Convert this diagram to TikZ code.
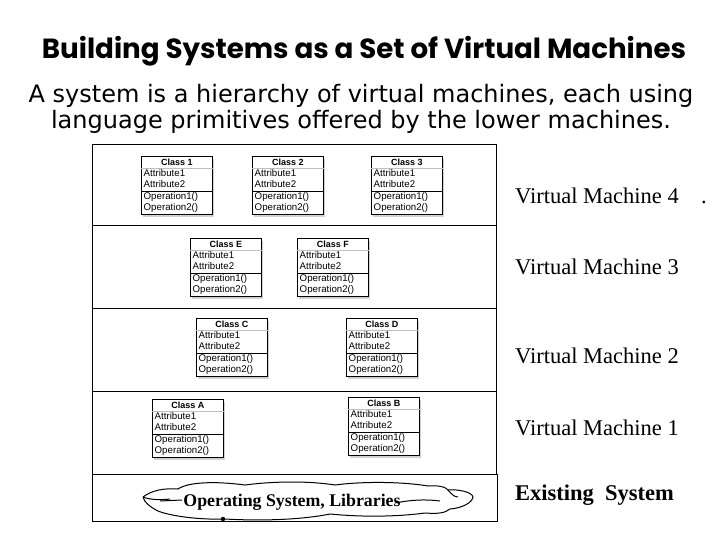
\documentclass[tikz,border=0pt]{standalone}
\usepackage{fontspec}
\setmainfont{Liberation Serif}
\newfontfamily\titlefont{Poppins}
\newfontfamily\subfont{DejaVu Sans}
\newfontfamily\umlfont{Liberation Sans}
\usetikzlibrary{shadows}
\tikzset{
  x=1pt, y=-1pt,
  classbox/.style={draw=black, line width=0.8pt, fill=white, minimum width=71pt, minimum height=58pt,
     inner sep=0pt, anchor=north west, drop shadow={opacity=0.35, shadow xshift=2pt, shadow yshift=-3pt}},
  ctitle/.style={font=\umlfont\bfseries\fontsize{9}{10}\selectfont, inner sep=0pt},
  crow/.style={font=\umlfont\fontsize{9.7}{10}\selectfont, inner sep=0pt, anchor=west},
  layer/.style={draw=black, line width=0.8pt},
  vmlabel/.style={font=\fontsize{22.5}{24}\selectfont, anchor=west, inner sep=0pt},
}
\newcommand\umlclass[4]{%
  \node[classbox] (#1) at (#2,#3) {};
  \node[ctitle] (#1t) at ([yshift=-6.5pt]#1.north) {#4};
  \draw[gray!50, line width=0.5pt] ([yshift=-12pt]#1.north west) -- ([yshift=-12pt]#1.north east);
  \node[crow] (#1a1) at ([xshift=2.5pt,yshift=-17.5pt]#1.north west) {Attribute1};
  \node[crow] (#1a2) at ([xshift=2.5pt,yshift=-28.5pt]#1.north west) {Attribute2};
  \draw[black, line width=0.7pt] ([yshift=-35pt]#1.north west) -- ([yshift=-35pt]#1.north east);
  \node[crow] (#1o1) at ([xshift=2.5pt,yshift=-41pt]#1.north west) {Operation1()};
  \node[crow] (#1o2) at ([xshift=2.5pt,yshift=-52pt]#1.north west) {Operation2()};
}
\begin{document}
\begin{tikzpicture}
\useasboundingbox (0,0) rectangle (720,540);
\fill[white] (0,0) rectangle (720,540);

% titles
\node[font=\titlefont\bfseries\fontsize{27.7}{30}\selectfont, inner sep=0pt] (title) at (364,51) {Building Systems as a Set of Virtual Machines};
\node[font=\subfont\fontsize{24}{26}\selectfont, inner sep=0pt] (sub1) at (361,96) {A system is a hierarchy of virtual machines, each using};
\node[font=\subfont\fontsize{24}{26}\selectfont, inner sep=0pt] (sub2) at (361,122) {language primitives offered by the lower machines.};

% layers
\draw[layer] (92,144) rectangle (496,474);
\draw[layer] (92,225) -- (496,225);
\draw[layer] (92,308) -- (496,308);
\draw[layer] (92,391) -- (496,391);
\draw[layer] (92,474) rectangle (497,521);

% classes
\umlclass{c1}{141}{156}{Class 1}
\umlclass{c2}{252}{156}{Class 2}
\umlclass{c3}{371}{156}{Class 3}
\umlclass{cE}{190}{238}{Class E}
\umlclass{cF}{297}{238}{Class F}
\umlclass{cC}{196}{318}{Class C}
\umlclass{cD}{346}{318}{Class D}
\umlclass{cA}{152}{399}{Class A}
\umlclass{cB}{348}{397}{Class B}

% labels
\node[vmlabel] (vm4) at (515,196) {Virtual Machine 4};
\node[vmlabel, anchor=base west] (dot) at (vm4.base -| 701,0) {.};
\node[vmlabel] (vm3) at (515,267) {Virtual Machine 3};
\node[vmlabel] (vm2) at (515,356) {Virtual Machine 2};
\node[vmlabel] (vm1) at (515,428) {Virtual Machine 1};
\node[vmlabel, font=\bfseries\fontsize{22.5}{24}\selectfont] (es) at (515,495) {Existing\ \ System};

% cloud
\draw[line width=1pt, fill=white]
  (143,497) .. controls (152,490) and (165,488) .. (178,489)
  .. controls (188,482) and (215,481) .. (245,485)
  .. controls (275,481) and (310,481) .. (335,485)
  .. controls (365,481) and (405,482) .. (428,486)
  .. controls (438,485) and (446,487) .. (448,490)
  .. controls (458,489) and (472,492) .. (473,497)
  .. controls (472,503) and (462,508) .. (450,509)
  .. controls (445,513) and (438,514) .. (425,513)
  .. controls (395,517) and (360,517) .. (330,514)
  .. controls (300,520) and (260,521) .. (225,519)
  .. controls (200,520) and (170,516) .. (158,511)
  .. controls (150,507) and (144,502) .. (143,497);
\draw[line width=1pt] (143,497) .. controls (150,500) and (162,500) .. (170,499);
\draw[line width=1pt] (160,501) -- (182,500);
\draw[line width=1pt] (395,503) .. controls (410,500) and (425,499) .. (440,501);
\draw[line width=1pt] (448,490) .. controls (452,495) and (455,497) .. (458,497);
\node[font=\bfseries\fontsize{17.8}{20}\selectfont, inner sep=0pt] (os) at (292,502) {Operating System, Libraries};
\fill[black] (223,519) circle (2.2);
\end{tikzpicture}
\end{document}
